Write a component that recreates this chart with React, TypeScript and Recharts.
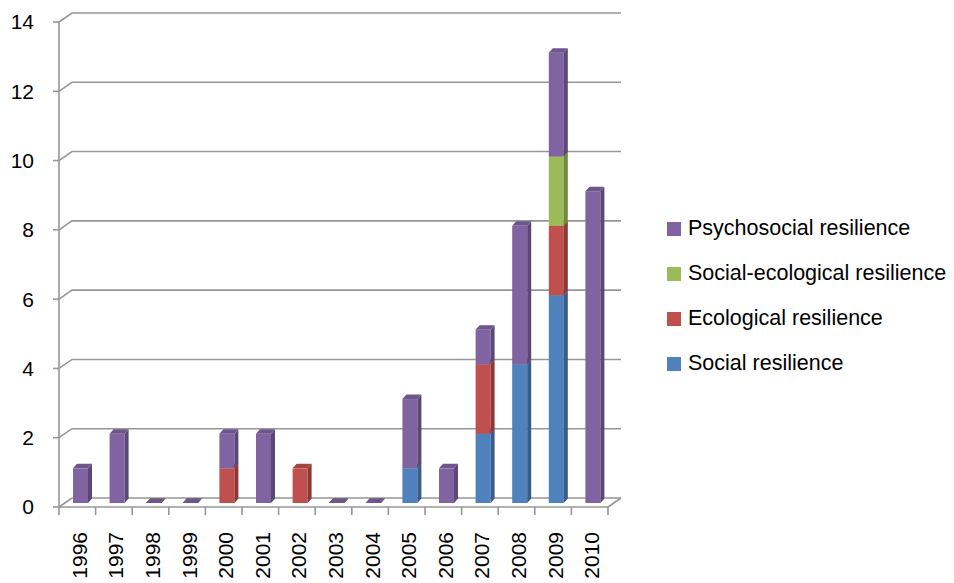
import React from "react";
import { BarChart, Bar, XAxis, YAxis, CartesianGrid } from "recharts";

const years = ["1996","1997","1998","1999","2000","2001","2002","2003","2004","2005","2006","2007","2008","2009","2010"];
const social =           [0,0,0,0,0,0,0,0,0,1,0,2,4,6,0];
const ecological =       [0,0,0,0,1,0,1,0,0,0,0,2,0,2,0];
const socialEcological = [0,0,0,0,0,0,0,0,0,0,0,0,0,2,0];
const psychosocial =     [1,2,0,0,1,2,0,0,0,2,1,1,4,3,9];
const yTicks = [0, 2, 4, 6, 8, 10, 12, 14];

const data = years.map((year, i) => ({
  year,
  social: social[i],
  ecological: ecological[i],
  socialEcological: socialEcological[i],
  psychosocial: psychosocial[i],
}));

const series = [
  { key: "social", name: "Social resilience", color: "#4F81BD", side: "#385d8a", top: "#44709f" },
  { key: "ecological", name: "Ecological resilience", color: "#C0504D", side: "#8c3836", top: "#a54542" },
  { key: "socialEcological", name: "Social-ecological resilience", color: "#9BBB59", side: "#71893f", top: "#86a24c" },
  { key: "psychosocial", name: "Psychosocial resilience", color: "#8064A2", side: "#5c4876", top: "#6e568c" },
];

const FONT = "'Liberation Sans', Arial, sans-serif";
const W = 954;
const H = 583;
const LEFT = 59;
const RIGHT = 608;
const TOP = 22;
const BOTTOM = 507;
const BW = (RIGHT - LEFT) / years.length;
const DX = 13;
const DY = -9;
const GRID = "#979797";

function make3DShape(s: { color: string; side: string; top: string }) {
  return (props: any) => {
    const { x, y, width, height, payload } = props;
    const total = payload.social + payload.ecological + payload.socialEcological + payload.psychosocial;
    if ((!height || height <= 0) && total > 0) return null;
    const h = Math.max(0, height || 0);
    const fx = x + 3;
    const fy = y - 4;
    const d = 4;
    const e = 4.5;
    return (
      <g>
        {h > 0 && <rect x={fx} y={fy} width={width} height={h} fill={s.color} />}
        {h > 0 && (
          <path
            d={`M${fx + width},${fy} L${fx + width + d},${fy - e} L${fx + width + d},${fy + h - e} L${fx + width},${fy + h} Z`}
            fill={s.side}
          />
        )}
        <path
          d={`M${fx},${fy} L${fx + d},${fy - e} L${fx + width + d},${fy - e} L${fx + width},${fy} Z`}
          fill={s.top}
        />
      </g>
    );
  };
}

const GridLine = (props: any) => {
  const { x1, y1, x2, index } = props;
  const isZero = Math.abs(y1 - BOTTOM) < 1;
  return (
    <g key={`g-${index}`}>
      <path
        d={`M${x1},${y1} L${x1 + DX},${y1 + DY} L${x2 + DX},${y1 + DY}`}
        fill="none"
        stroke={GRID}
        strokeWidth={1.6}
      />
      {isZero && (
        <path d={`M${x2},${y1} L${x2 + DX},${y1 + DY}`} fill="none" stroke={GRID} strokeWidth={1.6} />
      )}
    </g>
  );
};

const XTick = (props: any) => {
  const { x, y, payload, index } = props;
  const left = x - BW / 2;
  return (
    <g>
      <line x1={left} y1={y} x2={left} y2={y + 8} stroke={GRID} strokeWidth={1.6} />
      {index === years.length - 1 && (
        <line x1={x + BW / 2} y1={y} x2={x + BW / 2} y2={y + 8} stroke={GRID} strokeWidth={1.6} />
      )}
      <text
        x={x + 2}
        y={y + 25}
        transform={`rotate(-90, ${x + 2}, ${y + 25})`}
        textAnchor="end"
        dominantBaseline="central"
        fontSize={21}
        fontFamily={FONT}
        fill="#000"
      >
        {payload.value}
      </text>
    </g>
  );
};

const LegendBox = () => (
  <div style={{ position: "absolute", left: 667, top: 206, width: 290, fontFamily: FONT, fontSize: 21.5, color: "#000", whiteSpace: "nowrap" }}>
    {[...series].reverse().map((s) => (
      <div key={s.key} style={{ display: "flex", alignItems: "center", height: 45 }}>
        <span style={{ display: "inline-block", width: 14, height: 14, background: s.color, marginRight: 7 }} />
        <span>{s.name}</span>
      </div>
    ))}
  </div>
);

export default function App() {
  return (
    <div style={{ position: "absolute", left: 0, top: 0, width: W, height: H, background: "#fff" }}>
      <BarChart
        width={W}
        height={H}
        data={data}
        margin={{ top: TOP, right: W - RIGHT, bottom: 0, left: 0 }}
        barSize={15}
      >
        <CartesianGrid vertical={false} horizontal={GridLine as any} />
        <XAxis
          dataKey="year"
          axisLine={{ stroke: GRID, strokeWidth: 1.6 }}
          tickLine={false}
          tickSize={0}
          tickMargin={0}
          interval={0}
          tick={<XTick />}
          height={H - BOTTOM}
        />
        <YAxis
          width={LEFT}
          domain={[0, 14]}
          ticks={yTicks}
          interval={0}
          axisLine={{ stroke: GRID, strokeWidth: 1.6 }}
          tickLine={{ stroke: GRID, strokeWidth: 1.6 }}
          tickSize={6}
          tickMargin={19}
          tick={{ fontSize: 21, fontFamily: FONT, fill: "#000" }}
        />
        {series.map((s) => (
          <Bar
            key={s.key}
            dataKey={s.key}
            name={s.name}
            stackId="a"
            fill={s.color}
            isAnimationActive={false}
            shape={make3DShape(s)}
          />
        ))}
      </BarChart>
      <LegendBox />
    </div>
  );
}
